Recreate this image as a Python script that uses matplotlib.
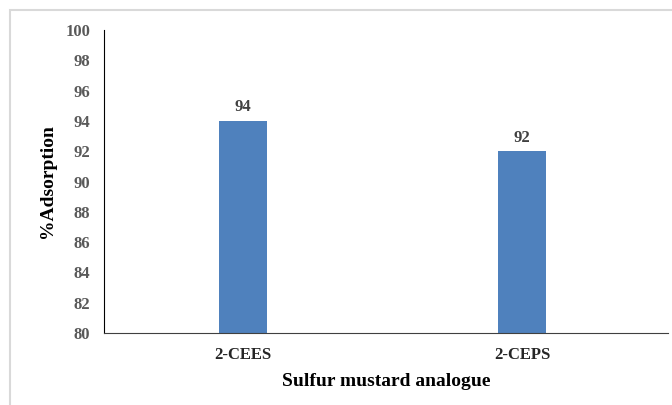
import matplotlib.pyplot as plt
from matplotlib.patches import Rectangle

# adsorption results for the two sulfur mustard analogues
analogues = ['2-CEES', '2-CEPS']
adsorption = [94, 92]
y_ticks = [80, 82, 84, 86, 88, 90, 92, 94, 96, 98, 100]

plt.rcParams['font.family'] = ['Liberation Serif', 'DejaVu Serif']
plt.rcParams['font.weight'] = 'bold'

fig = plt.figure(figsize=(6.72, 4.05), dpi=100)

# light frame around the chart area
fig.patches.append(Rectangle((10 / 672, -0.1), 1.2, (395 + 0.1 * 405) / 405,
                             transform=fig.transFigure, fill=False,
                             edgecolor='#d9d9d9', linewidth=1.5))

ax = fig.add_axes([104 / 672, 72 / 405, 564 / 672, 303 / 405])
x = range(len(analogues))
bars = ax.bar(x, adsorption, width=0.17, color='#4f81bd', zorder=2)

for rect, val in zip(bars, adsorption):
    ax.annotate(f'{val}', (rect.get_x() + rect.get_width() / 2, val),
                xytext=(0, 4), textcoords='offset points', ha='center', va='bottom',
                fontsize=12, fontweight='bold', color='#404040')

ax.set_xlim(-0.498, 1.523)
ax.set_ylim(80, 100)
ax.set_yticks(y_ticks)
ax.set_xticks(list(x))
ax.set_xticklabels(analogues)
ax.tick_params(axis='both', length=0, labelsize=12, labelcolor='#595959')
ax.tick_params(axis='y', pad=10)
ax.tick_params(axis='x', pad=10)
for lbl in ax.get_xticklabels() + ax.get_yticklabels():
    lbl.set_fontweight('bold')
for lbl in ax.get_xticklabels():
    lbl.set_color('#262626')

ax.spines['top'].set_visible(False)
ax.spines['right'].set_visible(False)
ax.spines['left'].set_color('black')
ax.spines['bottom'].set_color('#404040')

ax.set_xlabel('Sulfur mustard analogue', fontsize=14, fontweight='bold', labelpad=7)
ax.set_ylabel('%Adsorption', fontsize=14, fontweight='bold', labelpad=7)

fig.savefig('out.png', dpi=100)
